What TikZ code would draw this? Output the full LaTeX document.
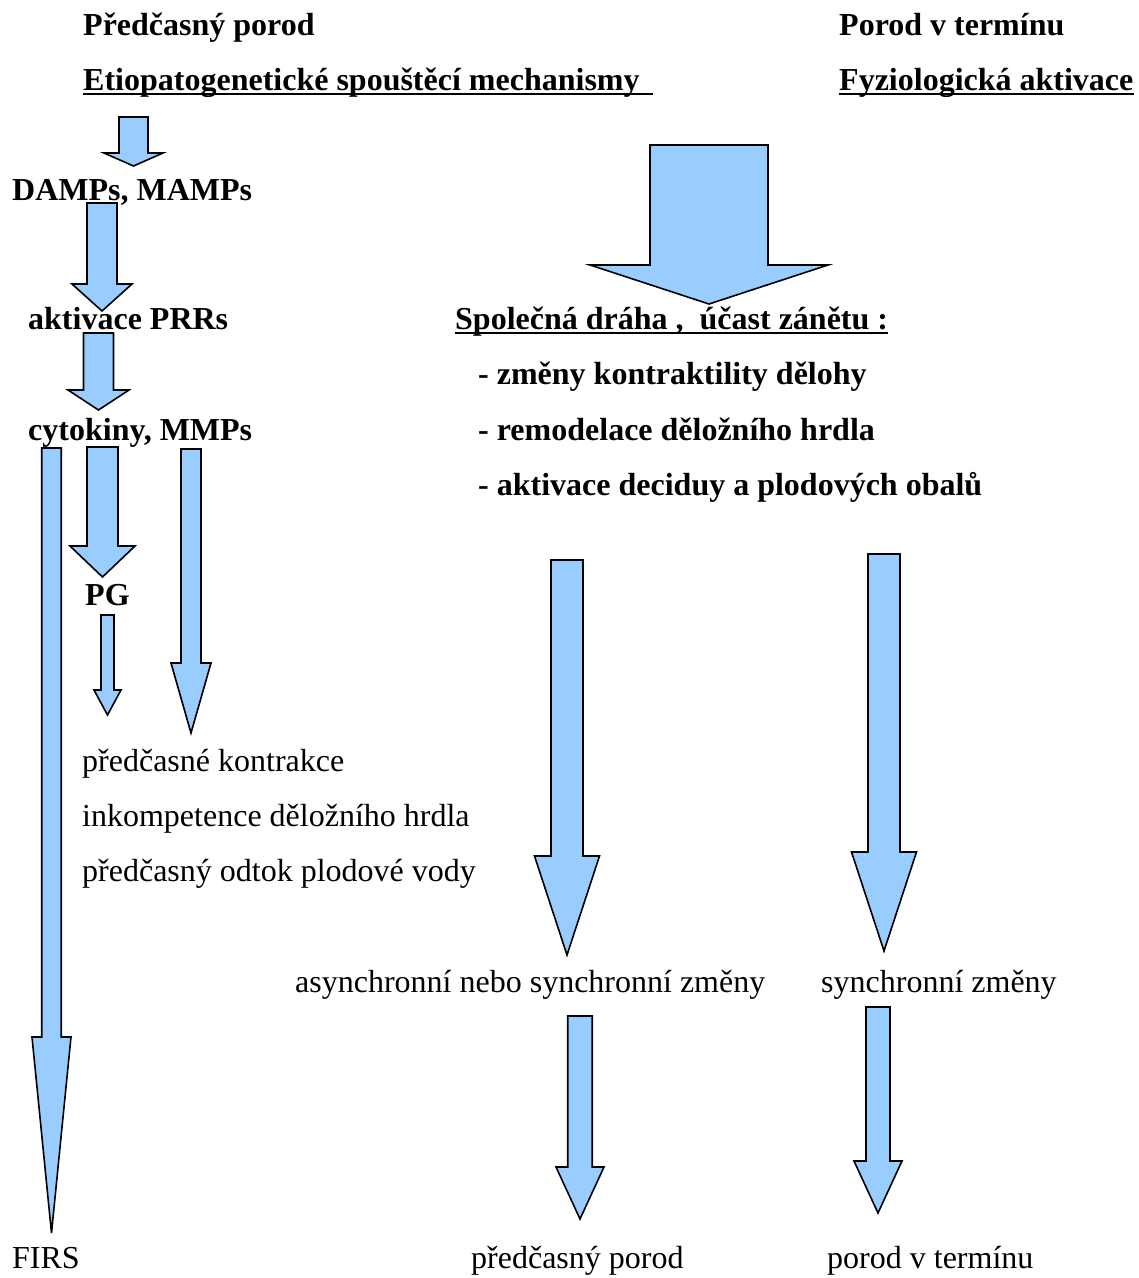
\documentclass[tikz,border=0pt]{standalone}
\usepackage{fontspec}
\setmainfont{Liberation Serif}
\usepackage{tikz}
\usetikzlibrary{%
	calc,%
	positioning,%
}
\definecolor{cblue}{RGB}{153, 204, 255}
\tikzset{
	nodes={align=left},%
	boldlabel/.style={%
			font=\fontsize{32}{38}\selectfont\bfseries,%
			inner sep=0,%
			anchor=base west},%
	plainlabel/.style={%
			font=\fontsize{32}{38}\selectfont,%
			inner sep=0,%
			anchor=base west},%
	uline/.style={%
			line width=2pt},%
	blockarrow/.style={%
			draw=black,%
			fill=cblue,%
			line width=1.6pt,%
			line join=miter},%
}
% block arrow: centre x, top y, tip y, half shaft, half head, head length
\newcommand{\blockarrow}[6]{%
	\draw[blockarrow] (#1-#4,#2) -- (#1+#4,#2) -- (#1+#4,#3-#6) -- (#1+#5,#3-#6)
		-- (#1,#3) -- (#1-#5,#3-#6) -- (#1-#4,#3-#6) -- cycle;}

\begin{document}
\begin{tikzpicture}[x=1pt, y=-1pt]%
	\useasboundingbox (0,0) rectangle (1139,1278);

	% headings
	\node[boldlabel] (pp) at (83,35) {Předčasný porod};
	\node[boldlabel] (etio) at (83,90) {Etiopatogenetické spouštěcí mechanismy\hspace{13pt}};
	\node[boldlabel] (pt) at (839,35) {Porod v termínu};
	\node[boldlabel] (fyz) at (839,90) {Fyziologická aktivace};

	\draw[uline] ([yshift=-4pt]etio.base west) to ([yshift=-4pt]etio.base east);
	\draw[uline] ([yshift=-4pt]fyz.base west) to ([yshift=-4pt]fyz.base east);

	% left cascade
	\node[boldlabel] (damps) at (12,200) {DAMPs, MAMPs};
	\node[boldlabel] (prr) at (28,329) {aktivace PRRs};
	\node[boldlabel] (cyto) at (28,440) {cytokiny, MMPs};
	\node[boldlabel] (pg) at (85,605) {PG};

	\node[plainlabel] (kontr) at (82,771) {předčasné kontrakce};
	\node[plainlabel] (inkomp) at ([yshift=-55pt]kontr.base west) {inkompetence děložního hrdla};
	\node[plainlabel] (odtok) at ([yshift=-55pt]inkomp.base west) {předčasný odtok plodové vody};

	% common pathway
	\node[boldlabel] (draha) at (455,329) {Společná dráha ,\ \ účast zánětu :};
	\draw[uline] ([yshift=-4pt]draha.base west) to ([yshift=-4pt]draha.base east);

	\node[boldlabel] (zm1) at (478,384.5) {- změny kontraktility dělohy};
	\node[boldlabel] (zm2) at ([yshift=-55.5pt]zm1.base west) {- remodelace děložního hrdla};
	\node[boldlabel] (zm3) at ([yshift=-55.5pt]zm2.base west) {- aktivace deciduy a plodových obalů};

	\node[plainlabel] (async) at (295,992) {asynchronní nebo synchronní změny};
	\node[plainlabel] (sync) at (821,992) {synchronní změny};

	% outcomes
	\node[plainlabel] (firs) at (12,1268) {FIRS};
	\node[plainlabel] (ppout) at (471,1268) {předčasný porod};
	\node[plainlabel] (ptout) at (827,1268) {porod v termínu};

	% arrows
	\blockarrow{133.5}{117}{166}{14.5}{29.5}{13}
	\blockarrow{102}{203}{311}{15}{30}{27}
	\blockarrow{98.5}{333}{410}{15}{30.5}{20}
	\blockarrow{51.5}{448}{1233}{9.75}{19.5}{196}
	\blockarrow{102.5}{447}{577}{15.5}{32.5}{31}
	\blockarrow{107.5}{615}{715}{6.5}{13.5}{25}
	\blockarrow{191}{449}{733}{10}{20}{70}
	\blockarrow{709}{145}{304}{59}{119}{39}
	\blockarrow{567}{560}{955}{16}{32.5}{99}
	\blockarrow{884}{554}{951}{16}{32.5}{99}
	\blockarrow{580}{1016}{1219}{12.25}{24}{52}
	\blockarrow{878}{1007}{1213}{12}{24}{52}
\end{tikzpicture}
\end{document}
